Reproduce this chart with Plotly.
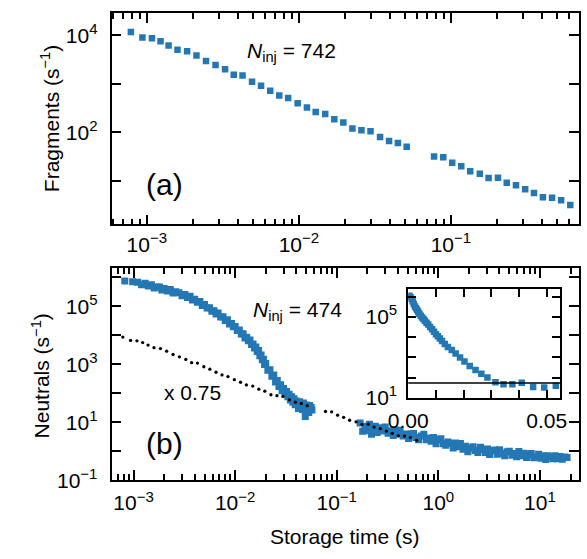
import plotly.graph_objects as go

# ---------------- data ----------------
# (a) fragment count rate vs storage time
frag_t = [7.85e-4, 9.35e-4, 1.08e-3, 1.23e-3, 1.39e-3, 1.59e-3, 1.84e-3, 2.12e-3, 2.45e-3, 2.83e-3,
          3.27e-3, 3.73e-3, 4.26e-3, 4.92e-3, 5.64e-3, 6.48e-3, 7.43e-3, 8.50e-3, 9.82e-3, 1.13e-2,
          1.29e-2, 1.49e-2, 1.71e-2, 1.96e-2, 2.25e-2, 2.58e-2, 2.96e-2, 3.42e-2, 3.92e-2, 4.48e-2,
          5.12e-2, 7.75e-2, 8.91e-2, 0.102, 0.117, 0.134, 0.155, 0.177, 0.204, 0.233,
          0.268, 0.308, 0.352, 0.403, 0.463, 0.531, 0.610]
frag_rate = [11700, 8980, 8690, 7570, 6190, 5050, 4690, 3820, 2940, 2440,
             1990, 1530, 1490, 1110, 918, 716, 578, 510, 398, 324,
             262, 239, 186, 159, 120, 111, 105, 80.4, 66.7, 60,
             50.5, 31.7, 30.8, 23.7, 19.9, 15.8, 14.0, 11.4, 11.6, 9.2,
             8.1, 6.7, 5.6, 4.6, 4.5, 4.0, 3.2]
frag_scale = 0.75          # fragments overlaid on panel (b) scaled by this factor
n_inj_frag = 742

# (b) neutral count rate, first measurement window (times in ms)
early_t_ms = [0.82, 0.98, 1.1, 1.2, 1.3, 1.4, 1.5, 1.6, 1.7, 1.8, 1.9, 2.0, 2.15, 2.3, 2.45, 2.6,
              2.8, 3.0, 3.2, 3.4, 3.6, 3.8, 4.0, 4.25, 4.5, 4.75, 5.0, 5.3, 5.6, 5.9, 6.2, 6.5,
              6.8, 7.2, 7.6, 8.0, 8.4, 8.8, 9.2, 9.6, 10, 10.5, 11, 11.5, 12, 12.5, 13, 13.5,
              14, 14.5, 15, 15.5, 16, 16.5, 17, 17.5, 18, 18.5, 19, 19.5, 20,
              21, 22, 23, 24, 25, 26, 27, 28, 29, 30, 31, 32, 33, 34, 35, 36, 37, 38, 39, 40,
              41, 42, 43, 44, 45, 46, 47, 48, 49, 50, 51, 52, 53, 54, 55, 56, 57]
early_rate = [7.6e5, 7.1e5, 6.9e5, 5.6e5, 6.3e5, 5.1e5, 5.6e5, 4.3e5, 4.7e5, 4.7e5, 3.7e5, 4.2e5,
              3.4e5, 3.85e5, 2.9e5, 3.2e5, 3.0e5, 2.35e5, 2.57e5, 2.04e5, 2.24e5, 1.66e5, 1.78e5,
              1.41e5, 1.48e5, 1.07e5, 1.17e5, 8.9e4, 9.1e4, 6.8e4, 7.1e4, 5.5e4, 5.9e4, 4.3e4,
              4.4e4, 3.3e4, 3.5e4, 2.5e4, 2.6e4, 2.0e4, 2.04e4, 1.48e4, 1.55e4, 1.12e4, 1.15e4,
              8.1e3, 8.7e3, 6.6e3, 6.9e3, 4.9e3, 5.1e3, 3.7e3, 4.0e3, 2.8e3, 3.0e3, 2.0e3, 2.1e3,
              1.45e3, 1.5e3, 1.0e3, 1.07e3,
              630, 650, 390, 430, 250, 280, 174, 200, 123, 148, 98, 117, 76, 93, 59, 76, 50, 65, 41, 55,
              45, 30, 52, 36, 41, 28, 47, 34, 16, 40, 31, 36, 22, 38, 29, 33, 27]

# (b) neutral count rate, second measurement window (times in s)
late_t = [0.17, 0.18, 0.19, 0.20, 0.21, 0.22, 0.23, 0.24, 0.25, 0.26, 0.28, 0.30, 0.32, 0.34,
          0.36, 0.38, 0.40, 0.42, 0.45, 0.48, 0.51, 0.54, 0.57, 0.60, 0.64, 0.68, 0.72, 0.76,
          0.80, 0.85, 0.90, 0.95, 1.0, 1.06, 1.12, 1.18, 1.25, 1.32, 1.40, 1.48, 1.56, 1.65,
          1.75, 1.85, 1.95, 2.05, 2.2, 2.3, 2.45, 2.6, 2.75, 2.9, 3.05, 3.2, 3.4, 3.6, 3.8,
          4.0, 4.25, 4.5, 4.75, 5.0, 5.3, 5.6, 5.9, 6.2, 6.6, 7.0, 7.4, 7.8, 8.2, 8.7, 9.2,
          9.7, 10.2, 10.8, 11.4, 12.0, 12.7, 13.4, 14.1, 14.9, 15.7, 16.6, 17.5, 18.5]
late_rate = [9.5, 4.9, 7.4, 5.2, 8.7, 3.9, 6.3, 7.4, 4.5, 6.6, 5.0, 6.9, 4.2, 5.2,
             3.5, 5.5, 4.0, 5.4, 3.4, 4.0, 2.8, 4.0, 4.1, 3.0, 2.5, 3.4, 3.9, 2.5,
             2.9, 2.24, 3.0, 1.82, 2.5, 2.75, 1.82, 1.62, 2.11, 1.86, 1.32, 1.95, 1.45, 1.88,
             1.19, 1.50, 0.98, 1.30, 1.45, 1.07, 0.92, 1.40, 1.17, 0.91, 1.20, 0.78, 1.05, 1.11, 0.79,
             1.14, 0.85, 0.71, 0.98, 1.02, 0.74, 0.85, 0.65, 0.99, 0.70, 0.86, 0.62, 0.77, 0.85, 0.60, 0.65,
             0.79, 0.58, 0.71, 0.52, 0.70, 0.64, 0.56, 0.70, 0.56, 0.66, 0.53, 0.64, 0.62]
n_inj_neut = 474

# inset: neutral rate on a linear time axis, with the background level
inset_t = [0.0004, 0.0008, 0.0012, 0.0016, 0.0020, 0.0024, 0.0028, 0.0032, 0.0036, 0.0040,
           0.0045, 0.0050, 0.0055, 0.0060, 0.0066, 0.0072, 0.0079, 0.0086, 0.0093, 0.0100,
           0.0107, 0.0114, 0.0122, 0.0132, 0.0143, 0.0157, 0.0171, 0.0187, 0.0203, 0.0222,
           0.0243, 0.0264, 0.0286, 0.0315, 0.0344, 0.0376, 0.0410, 0.0451, 0.0491, 0.0533]
inset_rate = [1.12e6, 9.5e5, 7.6e5, 5.8e5, 4.3e5, 3.3e5, 2.7e5, 2.2e5, 1.82e5, 1.45e5,
              1.15e5, 9.5e4, 7.9e4, 6.5e4, 5.2e4, 4.2e4, 3.2e4, 2.45e4, 1.86e4, 1.41e4,
              1.1e4, 8.5e3, 6.5e3, 4.6e3, 3.3e3, 2.3e3, 1.58e3, 980, 620, 380,
              240, 155, 102, 60, 47, 47, 56, 35, 33, 40]
inset_background = 54

# ---------------- style ----------------
BLUE = "#2477b5"
FONT = "Liberation Sans, Arial, sans-serif"
W, H = 587, 559
TICK_SIZE = 21


def sup(e):
    exp = str(e).replace("-", "\u2212")
    return "10<sup><span style=\"font-size:15px\">%s</span></sup>" % exp


def frame_axis(**kw):
    base = dict(showline=True, linecolor="black", linewidth=1.8, mirror="allticks",
                ticks="inside", ticklen=10, tickwidth=1.5, tickcolor="black",
                showgrid=False, zeroline=False, tickmode="array",
                tickfont=dict(family=FONT, size=TICK_SIZE, color="black"))
    base.update(kw)
    return base


minor_log = [m * 10.0 ** e for e in range(-4, 2) for m in range(2, 10)]
minor_style = dict(ticks="inside", ticklen=6, tickwidth=1.5, tickcolor="black",
                   tickvals=minor_log, showgrid=False)

fig = go.Figure()

# panel (a)
fig.add_trace(go.Scatter(x=frag_t, y=frag_rate, mode="markers", xaxis="x", yaxis="y",
                         marker=dict(symbol="square", size=6.5, color=BLUE)))

# panel (b)
fig.add_trace(go.Scatter(x=[v / 1000 for v in early_t_ms], y=early_rate, mode="markers",
                         xaxis="x2", yaxis="y2",
                         marker=dict(symbol="square", size=7, color=BLUE)))
fig.add_trace(go.Scatter(x=late_t, y=late_rate, mode="markers", xaxis="x2", yaxis="y2",
                         marker=dict(symbol="square", size=7, color=BLUE)))
fig.add_trace(go.Scatter(x=frag_t, y=[r * frag_scale for r in frag_rate], mode="markers",
                         xaxis="x2", yaxis="y2",
                         marker=dict(symbol="circle", size=3.3, color="black")))

# inset
fig.add_trace(go.Scatter(x=inset_t, y=inset_rate, mode="markers", xaxis="x3", yaxis="y3",
                         marker=dict(symbol="square", size=6.5, color=BLUE)))

xdom = [96 / W, 586 / W]
fig.update_layout(
    width=W, height=H, margin=dict(l=0, r=0, t=0, b=0),
    paper_bgcolor="white", plot_bgcolor="white", showlegend=False,
    font=dict(family=FONT, size=20, color="black"),
    xaxis=frame_axis(type="log", range=[-3.232, -0.157], domain=xdom, anchor="y",
                     tickvals=[1e-3, 1e-2, 1e-1], ticktext=[sup(-3), sup(-2), sup(-1)],
                     minor=minor_style),
    yaxis=frame_axis(type="log", range=[0.101, 4.465], domain=[1 - 229 / H, 1 - 13 / H],
                     anchor="x", tickvals=[10, 100, 1000, 1e4], ticklabelstandoff=8,
                     ticktext=["", sup(2), "", sup(4)]),
    xaxis2=frame_axis(type="log", range=[-3.216, 1.385], domain=xdom, anchor="y2",
                      tickvals=[1e-3, 1e-2, 1e-1, 1, 10], ticklabelstandoff=3,
                      ticktext=[sup(-3), sup(-2), sup(-1), sup(0), sup(1)],
                      minor=minor_style),
    yaxis2=frame_axis(type="log", range=[-1, 6.34], domain=[1 - 490 / H, 1 - 273 / H],
                      anchor="x2", tickvals=[0.1, 1, 10, 100, 1e3, 1e4, 1e5, 1e6],
                      ticklabelstandoff=8,
                      ticktext=[sup(-1), "", sup(1), "", sup(3), "", sup(5), ""]),
    xaxis3=frame_axis(range=[0, 0.0548], domain=[407 / W, 566 / W], anchor="y3",
                      ticklen=8, tickvals=[0, 0.01, 0.02, 0.03, 0.04, 0.05],
                      ticklabelstandoff=3,
                      ticktext=["0.00", "", "", "", "", "0.05"]),
    yaxis3=frame_axis(type="log", range=[0.995, 6.37], domain=[1 - 406 / H, 1 - 295 / H],
                      anchor="x3", ticklen=8, tickvals=[10, 100, 1e3, 1e4, 1e5, 1e6],
                      ticklabelstandoff=5,
                      ticktext=[sup(1), "", "", "", sup(5), ""]),
)

fig.add_shape(type="line", xref="x3 domain", yref="y3", x0=0, x1=1,
              y0=inset_background, y1=inset_background,
              line=dict(color="black", width=1.5))


def label(text, x, y, size=21, angle=0, xanchor="center"):
    fig.add_annotation(text=text, x=x / W, y=1 - y / H, xref="paper", yref="paper",
                       showarrow=False, textangle=angle, xanchor=xanchor, yanchor="middle",
                       font=dict(family=FONT, size=size, color="black"))


label("<i>N</i><sub>inj</sub> = %d" % n_inj_frag, 236, 53, xanchor="left")
label("<i>N</i><sub>inj</sub> = %d" % n_inj_neut, 242, 317, xanchor="left")
label("x %.2f" % frag_scale, 181, 400)
label("(a)", 151, 188, size=30)
label("(b)", 151, 452, size=30)
label("Fragments (s<sup>\u22121</sup>)", 31, 121, angle=-90)
label("Neutrals (s<sup>\u22121</sup>)", 22, 383, angle=-90)
label("Storage time (s)", 340, 547)

fig.write_html("out.html")
